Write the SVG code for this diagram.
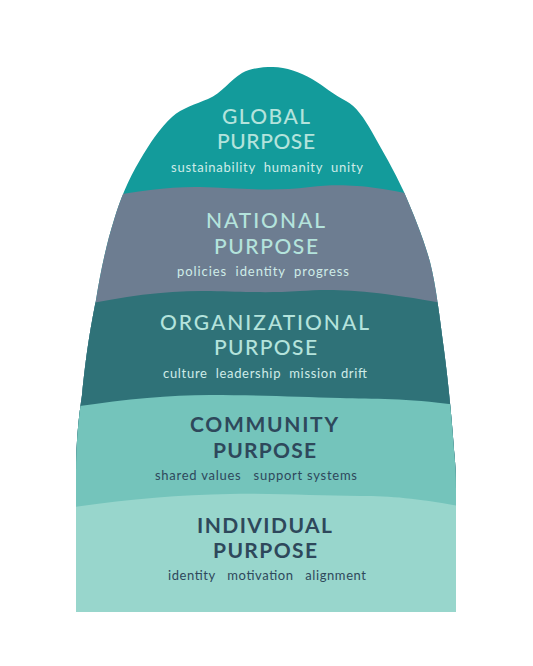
<svg xmlns="http://www.w3.org/2000/svg" width="533" height="666" viewBox="0 0 533 666">
  <style>
    .h { font-family: Lato, "Noto Sans", "Liberation Sans", sans-serif; font-size: 21px; font-weight: 500; }
    .hd { font-weight: 700; }
    .s { font-family: Lato, "Noto Sans", "Liberation Sans", sans-serif; font-size: 13px; font-weight: 400; white-space: pre; }
    .lt { fill: #b4e3dc; }
    .lts { fill: #cfece8; }
    .dk { fill: #2e485b; }
  </style>
  <defs>
    <clipPath id="outline">
      <path d="M76,612 L76,475 C76,440 79,415 82,395 C86,355 90,330 96,300 C100,275 106,245 114,220 C120,200 128,180 140,160 C150,143 160,128 172,117 C182,108 196,104 208,99 C222,93 230,80 242,73 C252,68 262,67 273,67 C286,67 300,72 312,79 C324,86 334,95 346,101 C356,106 364,118 372,132 C382,150 394,170 404,192 C414,215 424,240 430,262 C436,285 440,320 444,350 C448,380 452,420 454,450 C456,470 456,480 456,490 L456,612 Z"/>
    </clipPath>
  </defs>
  <rect width="533" height="666" fill="#ffffff"/>
  <g clip-path="url(#outline)">
    <g id="global">
      <rect x="0" y="0" width="533" height="666" fill="#139b9b"/>
    </g>
    <g id="national">
      <path d="M40,210 C90,200 150,186 200,187 C240,188 270,192 310,187 C350,182 390,186 490,214 L490,700 L40,700 Z" fill="#6d7d91"/>
    </g>
    <g id="organizational">
      <path d="M40,314 C110,298 160,290 210,291 C250,292 270,293 300,291 C340,288 380,290 490,312 L490,700 L40,700 Z" fill="#2f7278"/>
    </g>
    <g id="community">
      <path d="M40,412 C110,401 160,395 210,395 C260,395 300,397 340,398 C380,399 420,398 490,410 L490,700 L40,700 Z" fill="#74c4bb"/>
    </g>
    <g id="individual">
      <path d="M40,512 C110,501 170,495 230,494 C280,493 320,496 360,496 C400,496 430,500 490,512 L490,700 L40,700 Z" fill="#98d6cc"/>
    </g>
  </g>
  <g id="global-text">
    <text class="h lt" x="222" y="124" textLength="88" lengthAdjust="spacing">GLOBAL</text>
    <text class="h lt" x="217" y="149" textLength="98" lengthAdjust="spacing">PURPOSE</text>
    <text class="s lts" x="171" y="172" textLength="192" lengthAdjust="spacing">sustainability  humanity  unity</text>
  </g>
  <g id="national-text">
    <text class="h lt" x="206" y="228" textLength="119" lengthAdjust="spacing">NATIONAL</text>
    <text class="h lt" x="214" y="254" textLength="104" lengthAdjust="spacing">PURPOSE</text>
    <text class="s lts" x="177" y="276" textLength="172" lengthAdjust="spacing">policies  identity  progress</text>
  </g>
  <g id="organizational-text">
    <text class="h lt" x="160" y="330" textLength="209" lengthAdjust="spacing">ORGANIZATIONAL</text>
    <text class="h lt" x="214" y="355" textLength="103" lengthAdjust="spacing">PURPOSE</text>
    <text class="s lts" x="163" y="378" textLength="204" lengthAdjust="spacing">culture  leadership  mission drift</text>
  </g>
  <g id="community-text">
    <text class="h hd dk" x="190" y="432" textLength="148" lengthAdjust="spacing">COMMUNITY</text>
    <text class="h hd dk" x="213" y="458" textLength="103" lengthAdjust="spacing">PURPOSE</text>
    <text class="s dk" x="155" y="480" textLength="202" lengthAdjust="spacing">shared values   support systems</text>
  </g>
  <g id="individual-text">
    <text class="h hd dk" x="197" y="533" textLength="135" lengthAdjust="spacing">INDIVIDUAL</text>
    <text class="h hd dk" x="213" y="558" textLength="104" lengthAdjust="spacing">PURPOSE</text>
    <text class="s dk" x="168" y="580" textLength="198" lengthAdjust="spacing">identity   motivation   alignment</text>
  </g>
</svg>
